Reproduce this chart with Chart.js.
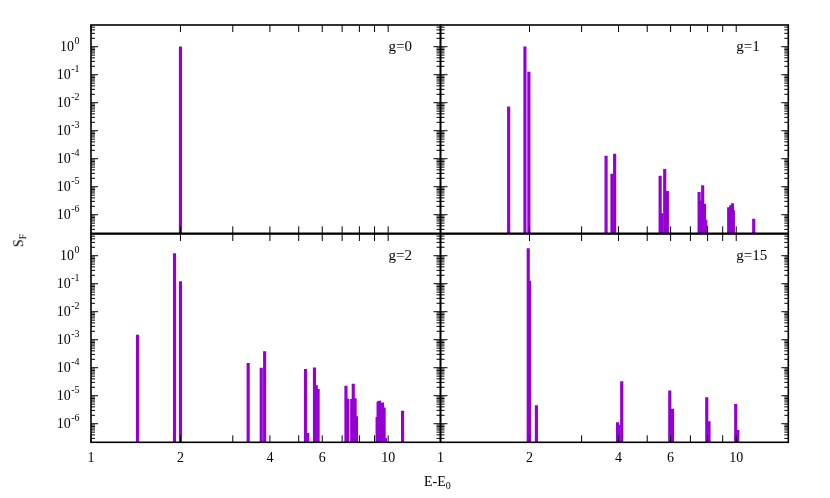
<!DOCTYPE html>
<html>
<head>
<meta charset="utf-8">
<script src="https://cdn.jsdelivr.net/npm/chart.js@4.4.1/dist/chart.umd.min.js"></script>
<style>
  body { margin: 0; background: #fff; }
  #wrap { position: relative; width: 830px; height: 498px; }
  #wrap canvas { position: absolute; left: 0; top: 0; }
  .axt { position: absolute; font-family: "Liberation Serif", serif; font-size: 14px; color: #000; white-space: nowrap; }
  .axt sub { font-size: 10px; vertical-align: -3px; }
  #ylab { left: 13px; top: 232px; transform: rotate(-90deg); transform-origin: center; }
  #xlab { left: 424px; top: 474px; }
</style>
</head>
<body>
<div id="wrap">
  <canvas id="p0" width="830" height="498"></canvas>
  <canvas id="p1" width="830" height="498"></canvas>
  <canvas id="p2" width="830" height="498"></canvas>
  <canvas id="p3" width="830" height="498"></canvas>
  <div class="axt" id="ylab">S<sub>F</sub></div>
  <div class="axt" id="xlab">E-E<sub>0</sub></div>
</div>
<script>
// axis ticks
const xTicks = [1, 2, 3, 4, 5, 6, 7, 8, 9, 10];
const xLabels = [1, 2, 4, 6, 10];
const yTicks = [1e-6, 1e-5, 1e-4, 1e-3, 1e-2, 1e-1, 1];
const xMin = 1, xMax = 15;
const yMin = 2.17e-7, yMax = 5.96;

// g=0
const g0E = [2.0];
const g0S = [1.0];

// g=1
const g1E = [1.70, 1.93, 1.99, 3.63, 3.80, 3.88, 5.53, 5.60, 5.73, 5.85,
             7.49, 7.59, 7.70, 7.81, 7.89, 9.43, 9.58, 9.71, 9.78, 11.46];
const g1S = [7.2e-3, 1.0, 0.125, 1.25e-4, 2.8e-5, 1.47e-4, 2.4e-5, 1.1e-6, 4.2e-5, 6.8e-6,
             6.3e-6, 3.1e-6, 1.1e-5, 2.4e-6, 6.5e-7, 1.8e-6, 2.1e-6, 2.5e-6, 1.4e-6, 7.0e-7];

// g=2
const g2E = [1.434, 1.91, 2.00, 3.38, 3.74, 3.84, 5.27, 5.36, 5.65, 5.73, 5.81,
             7.21, 7.31, 7.54, 7.63, 7.74, 7.82, 9.18, 9.25, 9.35, 9.57, 9.69, 9.79, 11.18];
const g2S = [1.47e-3, 1.18, 0.12, 1.44e-4, 9.8e-5, 3.8e-4, 8.7e-5, 4.5e-7, 1.0e-4, 2.3e-5, 1.7e-5,
             2.2e-5, 7.6e-6, 7.4e-6, 2.6e-5, 7.9e-6, 1.8e-6, 1.7e-6, 6.1e-6, 6.5e-6, 5.6e-6, 3.7e-6, 3.0e-7, 2.8e-6];

// g=15
const g15E = [1.98, 2.00, 2.11, 3.97, 4.01, 4.10, 5.96, 6.09, 7.95, 8.09, 9.96, 10.12];
const g15S = [1.78, 0.125, 4.4e-6, 1.1e-6, 8.9e-7, 3.2e-5, 1.5e-5, 3.3e-6, 8.5e-6, 1.2e-6, 4.9e-6, 5.8e-7];

const violet = '#9400d3';
const serif = '"Liberation Serif", serif';

// frame, inward ticks on all four sides, 10^n labels and the panel label
const framePlugin = {
  id: 'frame',
  afterDraw(chart, args, opts) {
    const { ctx, chartArea: a, scales: { x, y } } = chart;
    const line = (x1, y1, x2, y2) => { ctx.beginPath(); ctx.moveTo(x1, y1); ctx.lineTo(x2, y2); ctx.stroke(); };
    ctx.save();
    ctx.strokeStyle = '#000';
    ctx.lineWidth = 1;
    xTicks.forEach(v => {
      const px = x.getPixelForValue(v);
      line(px, a.bottom, px, a.bottom - 7);
      line(px, a.top, px, a.top + 7);
    });
    for (let k = -7; k <= 0; k++) {
      for (let m = 1; m <= 9; m++) {
        const v = m * Math.pow(10, k);
        if (v < yMin || v > yMax) continue;
        const py = y.getPixelForValue(v);
        const len = m === 1 ? 7 : 4;
        line(a.left, py, a.left + len, py);
        line(a.right, py, a.right - len, py);
      }
    }
    ctx.lineWidth = 1.6;
    ctx.strokeRect(a.left, a.top, a.right - a.left, a.bottom - a.top);

    ctx.fillStyle = '#000';
    ctx.textBaseline = 'middle';
    ctx.textAlign = 'left';
    if (opts.yLab) {
      yTicks.forEach(v => {
        const py = y.getPixelForValue(v);
        const ex = String(Math.round(Math.log10(v)));
        ctx.font = '14px ' + serif;
        const wb = ctx.measureText('10').width;
        ctx.font = '10px ' + serif;
        const we = ctx.measureText(ex).width;
        const x0 = a.left - 12 - wb - we;
        ctx.font = '14px ' + serif;
        ctx.fillText('10', x0, py + 1);
        ctx.font = '10px ' + serif;
        ctx.fillText(ex, x0 + wb + 0.5, py - 5);
      });
    }
    ctx.font = '15px ' + serif;
    ctx.fillText(opts.text, a.right - 52, a.top + 22);
    ctx.restore();
  }
};

const panels = [
  { id: 'p0', e: g0E, s: g0S, text: 'g=0', left: 91, right: 440.5, top: 25, bottom: 233.3, xLab: false, yLab: true },
  { id: 'p1', e: g1E, s: g1S, text: 'g=1', left: 440.5, right: 788.3, top: 25, bottom: 233.3, xLab: false, yLab: false },
  { id: 'p2', e: g2E, s: g2S, text: 'g=2', left: 91, right: 440.5, top: 234, bottom: 442.3, xLab: true, yLab: true },
  { id: 'p3', e: g15E, s: g15S, text: 'g=15', left: 440.5, right: 788.3, top: 234, bottom: 442.3, xLab: true, yLab: false }
];

panels.forEach(p => {
  const xAxisH = p.xLab ? 40 : 0;
  new Chart(document.getElementById(p.id), {
    type: 'bar',
    data: {
      datasets: [{
        data: p.e.map((v, i) => ({ x: v, y: p.s[i] })),
        backgroundColor: violet,
        borderWidth: 0,
        barThickness: 2.5
      }]
    },
    options: {
      responsive: false,
      animation: false,
      events: [],
      layout: { padding: { left: 0, top: p.top, right: 830 - p.right, bottom: 498 - p.bottom - xAxisH } },
      plugins: {
        legend: { display: false },
        tooltip: { enabled: false },
        frame: { text: p.text, yLab: p.yLab }
      },
      scales: {
        x: {
          type: 'logarithmic',
          min: xMin,
          max: xMax,
          offset: false,
          grid: { display: false, drawTicks: false },
          border: { display: false },
          afterBuildTicks: sc => { sc.ticks = xTicks.map(v => ({ value: v })); },
          afterFit: sc => { sc.height = xAxisH; },
          ticks: {
            display: p.xLab,
            autoSkip: false,
            maxRotation: 0,
            padding: 8,
            color: '#000',
            font: { family: serif, size: 14 },
            callback: v => xLabels.includes(v) ? String(v) : ''
          }
        },
        y: {
          type: 'logarithmic',
          min: yMin,
          max: yMax,
          grid: { display: false, drawTicks: false },
          border: { display: false },
          afterBuildTicks: sc => { sc.ticks = yTicks.map(v => ({ value: v })); },
          afterFit: sc => { sc.width = p.left; },
          ticks: { display: false }
        }
      }
    },
    plugins: [framePlugin]
  });
});
</script>
</body>
</html>
